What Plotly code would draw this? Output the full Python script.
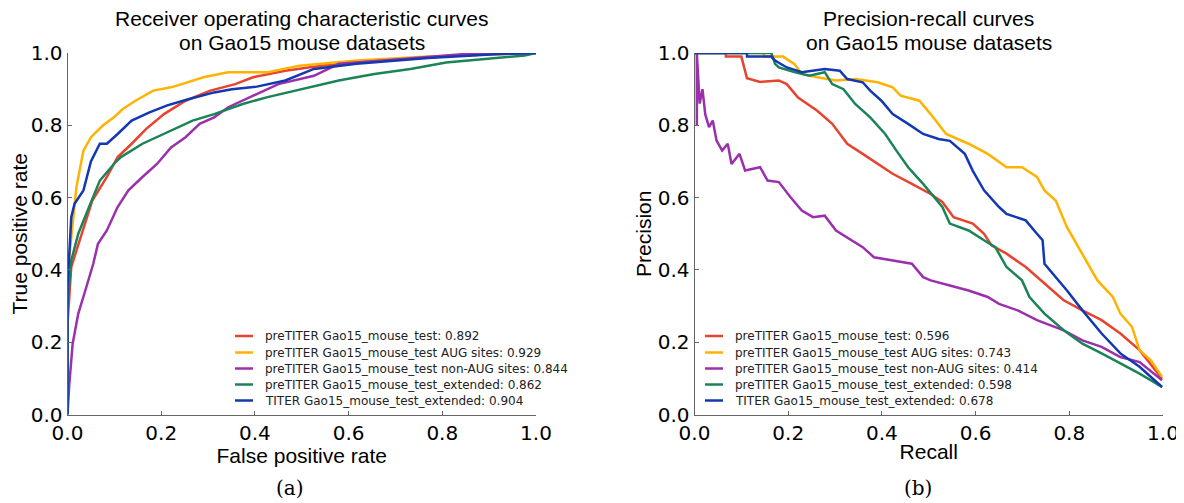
import plotly.graph_objects as go

names = [
    "preTITER Gao15_mouse_test",
    "preTITER Gao15_mouse_test AUG sites",
    "preTITER Gao15_mouse_test non-AUG sites",
    "preTITER Gao15_mouse_test_extended",
    "TITER Gao15_mouse_test_extended",
]
colors = ["#E8432F", "#FFB300", "#9B30AD", "#1B8456", "#1238B2"]
roc_auc = ["0.892", "0.929", "0.844", "0.862", "0.904"]
pr_auc = ["0.596", "0.743", "0.414", "0.598", "0.678"]

roc_title = ["Receiver operating characteristic curves", "on Gao15 mouse datasets"]
pr_title = ["Precision-recall curves", "on Gao15 mouse datasets"]
tick_vals = [0, 0.2, 0.4, 0.6, 0.8, 1.0]
tick_text = ["0.0", "0.2", "0.4", "0.6", "0.8", "1.0"]

# ROC curves (false positive rate, true positive rate)
roc_red_fpr = [0, 0, 0.008, 0.03, 0.053, 0.084, 0.107, 0.137, 0.168, 0.206, 0.252, 0.305, 0.358, 0.396, 0.465, 0.541, 0.694, 0.846, 1.0]
roc_red_tpr = [0, 0.25, 0.408, 0.50, 0.592, 0.657, 0.712, 0.749, 0.79, 0.831, 0.868, 0.896, 0.914, 0.933, 0.951, 0.965, 0.983, 0.994, 1.0]

roc_yel_fpr = [0, 0, 0.005, 0.019, 0.034, 0.05, 0.076, 0.099, 0.118, 0.145, 0.183, 0.221, 0.244, 0.29, 0.343, 0.427, 0.495, 0.617, 0.77, 1.0]
roc_yel_tpr = [0, 0.40, 0.45, 0.629, 0.73, 0.767, 0.80, 0.822, 0.845, 0.868, 0.896, 0.905, 0.914, 0.933, 0.947, 0.947, 0.965, 0.979, 0.99, 1.0]

roc_pur_fpr = [0, 0.004, 0.011, 0.023, 0.038, 0.055, 0.065, 0.084, 0.107, 0.13, 0.16, 0.191, 0.221, 0.252, 0.282, 0.313, 0.343, 0.389, 0.45, 0.526, 0.579, 0.694, 0.846, 1.0]
roc_pur_tpr = [0, 0.086, 0.196, 0.279, 0.343, 0.417, 0.472, 0.509, 0.574, 0.62, 0.657, 0.693, 0.739, 0.767, 0.804, 0.822, 0.85, 0.878, 0.914, 0.937, 0.97, 0.981, 0.997, 1.0]

roc_grn_fpr = [0, 0, 0.008, 0.023, 0.046, 0.069, 0.099, 0.114, 0.16, 0.198, 0.236, 0.267, 0.313, 0.374, 0.427, 0.503, 0.579, 0.655, 0.732, 0.808, 0.922, 0.976, 1.0]
roc_grn_tpr = [0, 0.30, 0.426, 0.50, 0.574, 0.647, 0.693, 0.712, 0.749, 0.772, 0.795, 0.813, 0.831, 0.859, 0.878, 0.90, 0.924, 0.942, 0.956, 0.974, 0.988, 0.993, 1.0]

roc_blu_fpr = [0, 0, 0.008, 0.015, 0.034, 0.05, 0.069, 0.084, 0.107, 0.137, 0.175, 0.213, 0.252, 0.313, 0.351, 0.404, 0.465, 0.526, 0.617, 0.77, 0.922, 1.0]
roc_blu_tpr = [0, 0.35, 0.546, 0.583, 0.62, 0.70, 0.749, 0.749, 0.776, 0.813, 0.836, 0.855, 0.870, 0.891, 0.90, 0.907, 0.924, 0.956, 0.97, 0.986, 0.997, 1.0]

# Precision-recall curves (recall, precision)
pr_red_rec = [0, 0.067, 0.067, 0.10, 0.112, 0.14, 0.18, 0.197, 0.221, 0.262, 0.294, 0.326, 0.359, 0.391, 0.423, 0.464, 0.504, 0.529, 0.553, 0.594, 0.618, 0.634, 0.666, 0.707, 0.747, 0.788, 0.828, 0.869, 0.909, 0.95, 0.998]
pr_red_prec = [1.0, 1.0, 0.99, 0.99, 0.93, 0.92, 0.924, 0.914, 0.877, 0.84, 0.804, 0.749, 0.721, 0.693, 0.666, 0.638, 0.61, 0.588, 0.546, 0.528, 0.50, 0.468, 0.445, 0.408, 0.362, 0.316, 0.288, 0.261, 0.224, 0.178, 0.099]

pr_yel_rec = [0, 0.148, 0.148, 0.189, 0.213, 0.229, 0.262, 0.302, 0.343, 0.391, 0.423, 0.44, 0.48, 0.504, 0.537, 0.585, 0.626, 0.666, 0.699, 0.731, 0.747, 0.771, 0.795, 0.828, 0.86, 0.893, 0.909, 0.934, 0.95, 0.974, 0.998]
pr_yel_prec = [1.0, 1.0, 0.99, 0.99, 0.97, 0.942, 0.933, 0.924, 0.928, 0.919, 0.905, 0.882, 0.868, 0.831, 0.776, 0.749, 0.721, 0.684, 0.684, 0.657, 0.62, 0.592, 0.518, 0.445, 0.371, 0.325, 0.279, 0.242, 0.178, 0.15, 0.104]

pr_pur_rec = [0.005, 0.005, 0.011, 0.017, 0.023, 0.031, 0.039, 0.047, 0.059, 0.071, 0.079, 0.096, 0.108, 0.14, 0.156, 0.18, 0.205, 0.229, 0.253, 0.278, 0.302, 0.334, 0.359, 0.383, 0.423, 0.464, 0.488, 0.504, 0.545, 0.585, 0.626, 0.65, 0.69, 0.731, 0.788, 0.828, 0.869, 0.909, 0.95, 0.998]
pr_pur_prec = [0.80, 1.0, 0.86, 0.90, 0.83, 0.795, 0.813, 0.758, 0.73, 0.749, 0.693, 0.721, 0.675, 0.684, 0.647, 0.643, 0.601, 0.564, 0.546, 0.55, 0.509, 0.482, 0.463, 0.435, 0.426, 0.417, 0.38, 0.371, 0.357, 0.343, 0.325, 0.306, 0.288, 0.261, 0.233, 0.205, 0.187, 0.159, 0.145, 0.095]

pr_grn_rec = [0, 0.164, 0.172, 0.18, 0.213, 0.245, 0.278, 0.294, 0.318, 0.343, 0.375, 0.407, 0.431, 0.456, 0.488, 0.512, 0.529, 0.545, 0.585, 0.618, 0.642, 0.666, 0.699, 0.715, 0.747, 0.788, 0.828, 0.869, 0.909, 0.95, 0.998]
pr_grn_prec = [1.0, 1.0, 0.97, 0.96, 0.947, 0.937, 0.947, 0.914, 0.90, 0.859, 0.822, 0.776, 0.73, 0.684, 0.638, 0.601, 0.574, 0.528, 0.509, 0.482, 0.463, 0.408, 0.371, 0.325, 0.279, 0.233, 0.196, 0.169, 0.141, 0.113, 0.076]

pr_blu_rec = [0, 0.112, 0.112, 0.164, 0.172, 0.197, 0.229, 0.278, 0.31, 0.326, 0.359, 0.375, 0.399, 0.423, 0.456, 0.488, 0.521, 0.545, 0.577, 0.594, 0.618, 0.65, 0.666, 0.707, 0.731, 0.743, 0.747, 0.771, 0.795, 0.828, 0.869, 0.909, 0.95, 0.998]
pr_blu_prec = [1.0, 1.0, 0.99, 0.99, 0.979, 0.96, 0.947, 0.956, 0.951, 0.928, 0.919, 0.896, 0.868, 0.831, 0.804, 0.776, 0.762, 0.757, 0.721, 0.674, 0.62, 0.574, 0.555, 0.537, 0.50, 0.482, 0.417, 0.38, 0.343, 0.288, 0.224, 0.169, 0.132, 0.076]

roc_x = [roc_red_fpr, roc_yel_fpr, roc_pur_fpr, roc_grn_fpr, roc_blu_fpr]
roc_y = [roc_red_tpr, roc_yel_tpr, roc_pur_tpr, roc_grn_tpr, roc_blu_tpr]
pr_x = [pr_red_rec, pr_yel_rec, pr_pur_rec, pr_grn_rec, pr_blu_rec]
pr_y = [pr_red_prec, pr_yel_prec, pr_pur_prec, pr_grn_prec, pr_blu_prec]

# The page body has an 8px margin; work in screen pixels and convert.
OFF = 8
W, H = 1184 - OFF, 503 - OFF
def px(x):
    return (x - OFF) / W
def py(y):
    return 1 - (y - OFF) / H

fig = go.Figure()
for i in range(5):
    fig.add_trace(go.Scatter(
        x=roc_x[i], y=roc_y[i], mode="lines",
        line=dict(color=colors[i], width=2.5),
        name=f"{names[i]}: {roc_auc[i]}",
        xaxis="x", yaxis="y", showlegend=False,
    ))
for i in range(5):
    fig.add_trace(go.Scatter(
        x=pr_x[i], y=pr_y[i], mode="lines",
        line=dict(color=colors[i], width=2.5),
        name=f"{names[i]}: {pr_auc[i]}",
        xaxis="x2", yaxis="y2", showlegend=False,
    ))

tickfont = dict(family="DejaVu Sans", size=20, color="#000")
titlefont = dict(family="Liberation Sans, Arial", size=21, color="#000")
axis_common = dict(
    range=[0, 1], showgrid=False, zeroline=False, showline=True,
    linecolor="#666", linewidth=1, ticks="inside", ticklen=4,
    tickcolor="#666", tickwidth=1, tickfont=tickfont,
    tickvals=tick_vals, ticktext=tick_text,
    mirror=False, automargin=False,
)

L1, R1 = 67.5, 536
L2, R2 = 694.5, 1163
T, B = 53, 414.5

legfont = dict(family="DejaVu Sans", size=12, color="#222")
leg_rows = [336, 352.5, 368.5, 384.5, 400.5]
leg_left = [(235, 253, 263), (705, 723, 733)]
auc_sets = [roc_auc, pr_auc]

shapes = []
annotations = []
for lines, cx in [(roc_title, (L1 + R1) / 2), (pr_title, (L2 + R2) / 2)]:
    for txt, yy in zip(lines, [18, 42]):
        annotations.append(dict(text=txt, x=px(cx), y=py(yy), xref="paper", yref="paper",
                                xanchor="center", yanchor="middle", showarrow=False,
                                font=titlefont))
annotations += [
    dict(text="(a)", x=px(290), y=py(488), xref="paper", yref="paper",
         xanchor="center", yanchor="middle", showarrow=False,
         font=dict(family="DejaVu Serif", size=20, color="#000")),
    dict(text="(b)", x=px(918), y=py(488), xref="paper", yref="paper",
         xanchor="center", yanchor="middle", showarrow=False,
         font=dict(family="DejaVu Serif", size=20, color="#000")),
]
for (x0, x1, xt), aucs in zip(leg_left, auc_sets):
    for i in range(5):
        yr = leg_rows[i]
        shapes.append(dict(type="line", xref="paper", yref="paper",
                           x0=px(x0), x1=px(x1), y0=py(yr), y1=py(yr),
                           line=dict(color=colors[i], width=2.5)))
        annotations.append(dict(text=f"{names[i]}: {aucs[i]}",
                                x=px(xt), y=py(yr), xref="paper", yref="paper",
                                xanchor="left", yanchor="middle", showarrow=False,
                                font=legfont))

fig.update_layout(
    width=W, height=H,
    margin=dict(l=0, r=0, t=0, b=0, autoexpand=False),
    paper_bgcolor="white", plot_bgcolor="white",
    showlegend=False,
    xaxis=dict(domain=[px(L1), px(R1)], anchor="y",
               title=dict(text="False positive rate", font=titlefont, standoff=0), **axis_common),
    yaxis=dict(domain=[py(B), py(T)], anchor="x",
               title=dict(text="True positive rate", font=titlefont, standoff=0), **axis_common),
    xaxis2=dict(domain=[px(L2), px(R2)], anchor="y2",
                title=dict(text="Recall", font=titlefont, standoff=0), **axis_common),
    yaxis2=dict(domain=[py(B), py(T)], anchor="x2",
                title=dict(text="Precision", font=titlefont, standoff=0), **axis_common),
    shapes=shapes,
    annotations=annotations,
)

fig.write_html("out.html")
